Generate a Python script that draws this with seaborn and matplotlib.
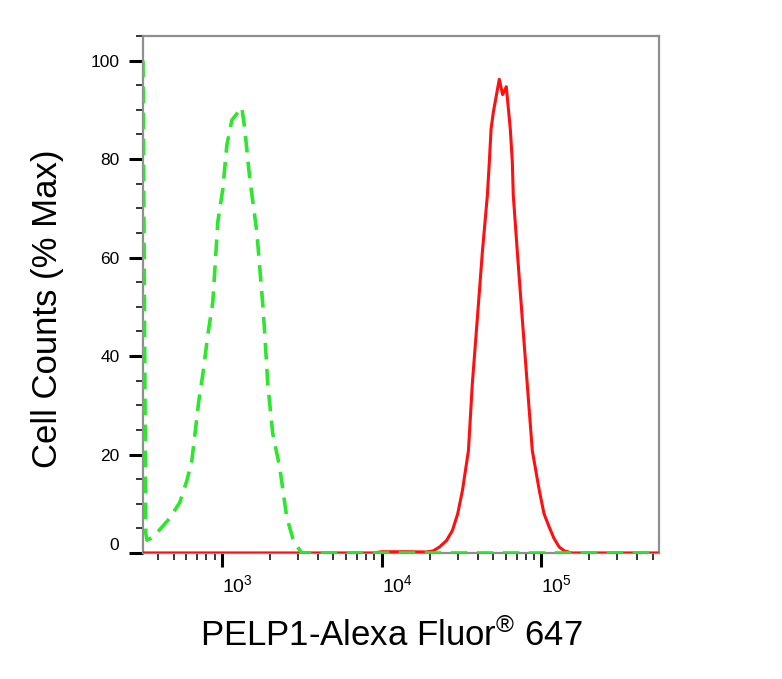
import numpy as np
import pandas as pd
import matplotlib
matplotlib.use('Agg')
import matplotlib.pyplot as plt
import matplotlib.ticker as mticker
import seaborn as sns

# Isotype control (green dashed)
ctrl_x = [321, 334, 340, 371, 473, 546, 604, 649, 678, 718, 761, 818, 878, 944,
          1014, 1075, 1155, 1334, 1393, 1496, 1655, 1804, 1858, 1939, 2084,
          2304, 2548, 2780, 2985, 3162, 546000]
ctrl_y = [100, 4, 2.6, 3.2, 7.1, 10.3, 14.7, 18.8, 24, 31, 36.4, 44.4, 51, 67.3,
          73.9, 82.8, 87.9, 90.5, 86, 76, 65.3, 50.5, 44.4, 34.3, 24.2,
          17.4, 7.3, 3, 1.2, 0, 0]

# PELP1 stained sample (red solid)
pelp_x = [321, 9000, 10000, 15000, 19000, 21000, 23000, 25500, 27800, 30000,
          32100, 35000, 37000, 39800, 42800, 46000, 47300, 48500, 50100, 54600,
          57300, 60400, 64000, 65900, 66800, 70800, 76000, 81700, 87900, 97200,
          104000, 112000, 120000, 129600, 140000, 156000, 546000]
pelp_y = [0, 0, 0.25, 0.25, 0.2, 0.4, 1.2, 2.5, 4.6, 8,
          12.7, 20.8, 34.3, 47.7, 61.2, 72.7, 79.4, 86.1, 89.5, 96.2,
          93.1, 94.7, 86.1, 79.4, 72.7, 61.2, 47.7, 34.3, 20.8, 12.7,
          8, 5.3, 3, 1.2, 0.4, 0, 0]

x_major = [1e3, 1e4, 1e5]
x_major_labels = [r'$10^{3}$', r'$10^{4}$', r'$10^{5}$']
y_major = [0, 20, 40, 60, 80, 100]

sns.set_style('ticks')
plt.rcParams['font.family'] = ['Liberation Sans', 'DejaVu Sans']
plt.rcParams['mathtext.fontset'] = 'custom'
plt.rcParams['mathtext.rm'] = 'Liberation Sans'
plt.rcParams['mathtext.default'] = 'regular'
plt.rcParams['text.color'] = 'black'
plt.rcParams['axes.labelcolor'] = 'black'

fig = plt.figure(figsize=(7.82, 6.79), dpi=100)
ax = fig.add_axes([0.1829, 0.1856, 0.6598, 0.7614])

ctrl = pd.DataFrame({'x': ctrl_x, 'y': ctrl_y})
pelp = pd.DataFrame({'x': pelp_x, 'y': pelp_y})

sns.lineplot(data=pelp, x='x', y='y', ax=ax, color='#ff1010', linewidth=2.2,
             sort=False, zorder=3)
sns.lineplot(data=ctrl, x='x', y='y', ax=ax, color='#2ee62e', linewidth=2.6,
             sort=False, zorder=4, dashes=False, linestyle=(0, (4.6, 2.6)))

ax.set_xscale('log')
ax.set_xlim(321, 546000)
ax.set_ylim(0, 105)

ax.xaxis.set_major_locator(mticker.FixedLocator(x_major))
ax.xaxis.set_major_formatter(mticker.FixedFormatter(x_major_labels))
ax.xaxis.set_minor_locator(mticker.LogLocator(base=10, subs=np.arange(2, 10)))
ax.xaxis.set_minor_formatter(mticker.NullFormatter())
ax.yaxis.set_major_locator(mticker.FixedLocator(y_major))
ax.yaxis.set_minor_locator(mticker.MultipleLocator(5))

ax.tick_params(axis='both', which='major', direction='out', length=10, width=2.2,
               color='black', labelsize=12.5, labelcolor='black')
ax.tick_params(axis='both', which='minor', direction='out', length=5, width=1.1,
               color='black')
ax.tick_params(axis='y', which='major', pad=7)
ax.tick_params(axis='x', which='major', pad=5, labelsize=14)

for lbl in ax.get_xticklabels():
    lbl.set_ha('left')
ax.get_yticklabels()[0].set_va('bottom')

for side in ['left', 'bottom', 'top', 'right']:
    ax.spines[side].set_color('#8f8f8f')
    ax.spines[side].set_linewidth(1.6)

ax.set_xlabel('PELP1-Alexa Fluor$^{®}$ 647', fontsize=25)
ax.set_ylabel('Cell Counts (% Max)', fontsize=25)
ax.xaxis.set_label_coords(0.4816, -0.126)
ax.yaxis.set_label_coords(-0.153, 0.473)

fig.savefig('out.png', dpi=100)
